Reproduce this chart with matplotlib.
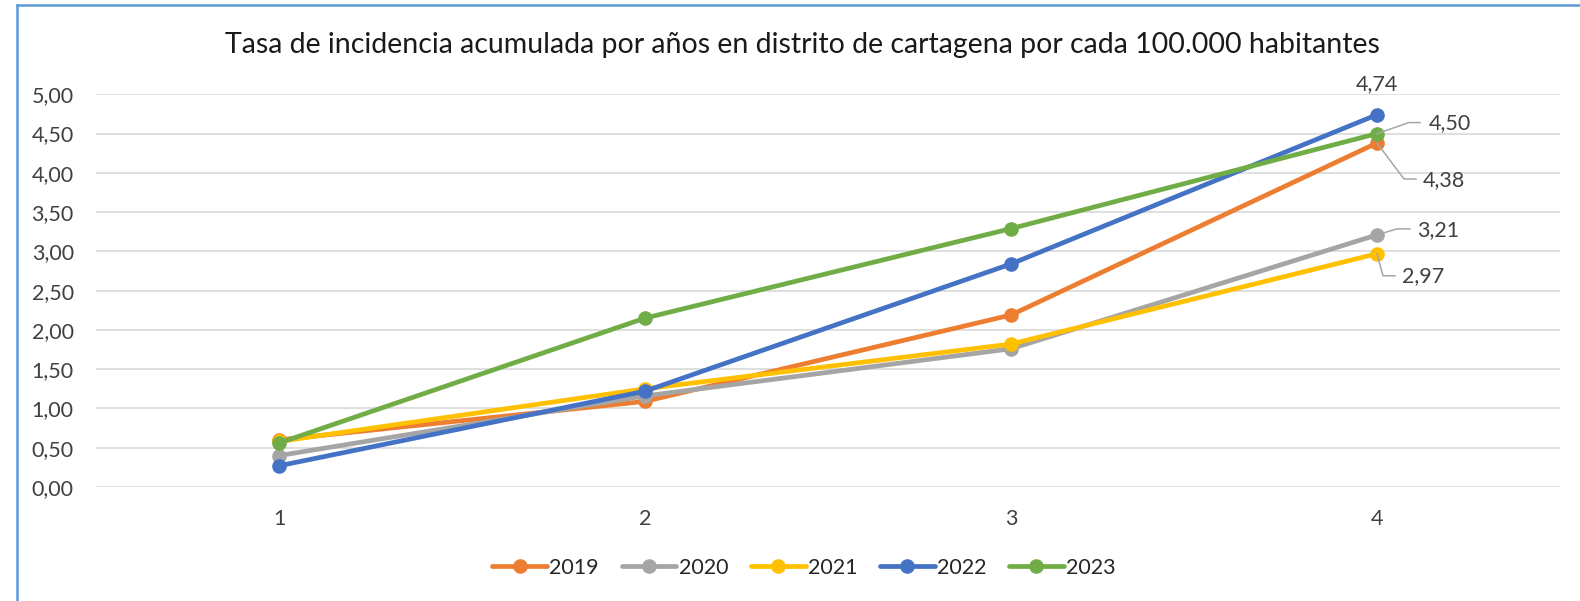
import matplotlib
matplotlib.use("Agg")
import numpy as np
import matplotlib.pyplot as plt
from matplotlib.lines import Line2D
from matplotlib.transforms import ScaledTranslation

plt.rcParams['font.family'] = ['Lato', 'DejaVu Sans']

# ---- data ----
categories = [1, 2, 3, 4]
series_names = ["2019", "2020", "2021", "2022", "2023"]
v2019 = [0.60, 1.09, 2.19, 4.38]
v2020 = [0.40, 1.16, 1.76, 3.21]
v2021 = [0.58, 1.25, 1.82, 2.97]
v2022 = [0.27, 1.22, 2.84, 4.74]
v2023 = [0.56, 2.15, 3.29, 4.50]
series_values = [v2019, v2020, v2021, v2022, v2023]
colors = ["#ED7D31", "#A5A5A5", "#FFC000", "#4472C4", "#70AD47"]
yticks = [0, 0.5, 1, 1.5, 2, 2.5, 3, 3.5, 4, 4.5, 5]
title = "Tasa de incidencia acumulada por años en distrito de cartagena por cada 100.000 habitantes"

W, H, DPI = 1580, 601, 100
fig = plt.figure(figsize=(W / DPI, H / DPI), dpi=DPI)
fig.patch.set_facecolor("white")

ax_l, ax_r, ax_t, ax_b = 96, 1560, 94.3, 487
ax = fig.add_axes([ax_l / W, 1 - ax_b / H, (ax_r - ax_l) / W, (ax_b - ax_t) / H])

for name, vals, c in zip(series_names, series_values, colors):
    ax.plot(categories, vals, color=c, lw=3.4, marker='o', ms=9.5,
            label=name, solid_capstyle='round', clip_on=False)

ax.set_xlim(0.5, 4.5)
ax.set_ylim(0, 5)
ax.set_yticks(yticks)
ax.set_yticklabels([f"{t:.2f}".replace('.', ',') for t in yticks])
ax.set_xticks(categories)
ax.set_xticklabels([str(c) for c in categories])
ax.tick_params(axis='y', length=0, pad=16, labelsize=15.5, labelcolor='#404040')
ax.tick_params(axis='x', length=0, pad=16, labelsize=15.5, labelcolor='#404040')
ax.grid(axis='y', color='#D9D9D9', lw=1.2)
ax.set_axisbelow(True)
for s in ax.spines.values():
    s.set_visible(False)


def off(dx, dy):
    # pixel offsets (dy up positive)
    return ax.transData + ScaledTranslation(dx / DPI, dy / DPI, fig.dpi_scale_trans)


last = categories[-1]
# label for 2022 (above)
ax.text(last, v2022[-1], "4,74", transform=off(0, 31), ha='center', va='center',
        fontsize=15.5, color='#404040', clip_on=False)

# labels with leader lines: (value, bend, end, text_left, text_center_y)
leaders = [
    (v2023[-1], (32, 11), (43, 11), 52, 10),
    (v2019[-1], (27, -36), (39, -36), 46, -37),
    (v2020[-1], (20, 6), (33, 6), 40, 5),
    (v2021[-1], (6, -22), (18, -22), 25, -22),
]
for val, bend, end, tx, ty in leaders:
    pts = [(0, 0), bend, end]
    px, py = ax.transData.transform((last, val))
    xs = [px + p[0] for p in pts]
    ys = [py + p[1] for p in pts]
    fig.add_artist(Line2D(np.array(xs) / W, np.array(ys) / H, color='#A6A6A6', lw=1.1,
                          transform=fig.transFigure, zorder=1))
    ax.text(last, val, f"{val:.2f}".replace('.', ','), transform=off(tx, ty),
            ha='left', va='center', fontsize=15.5, color='#404040', clip_on=False)

# title
fig.text(802 / W, 1 - 45 / H, title, ha='center', va='center', fontsize=20.5, color='#1a1a1a')

# legend
fig.legend(loc='center', bbox_to_anchor=(804 / W, 1 - 568 / H), ncol=5, frameon=False,
           fontsize=15.5, handlelength=2.55, handletextpad=0.1, columnspacing=1.05,
           labelcolor='#262626')

# border (left and top)
bc = '#5B9BD5'
fig.add_artist(Line2D([16.5 / W, 16.5 / W], [0, 1 - 5 / H], color=bc, lw=1.8, transform=fig.transFigure))
fig.add_artist(Line2D([16.5 / W, 1], [1 - 5 / H, 1 - 5 / H], color=bc, lw=1.8, transform=fig.transFigure))

fig.savefig("out.png", dpi=DPI, facecolor='white')
